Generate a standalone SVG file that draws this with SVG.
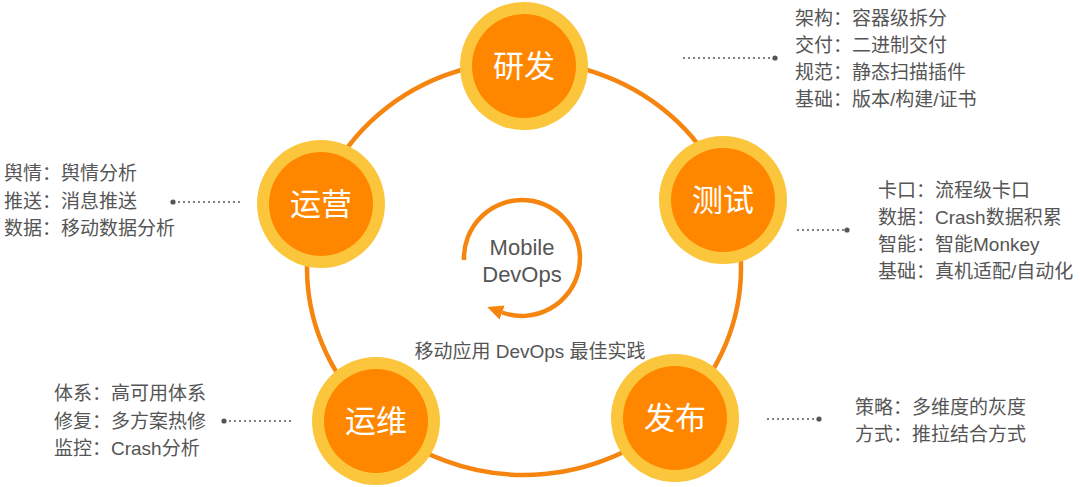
<svg xmlns="http://www.w3.org/2000/svg" width="1080" height="487" viewBox="0 0 1080 487">
<defs>
<style>
.ring{fill:none;stroke:#F5850F;stroke-width:4.5}
.outer{fill:#FBC63C}
.inner{fill:#FF8700}
.ntext{font-family:"Liberation Sans","Noto Sans CJK SC",sans-serif;font-size:31px;fill:#FFFFFF;text-anchor:middle}
.lead{fill:none;stroke:#555555;stroke-width:1.5;stroke-dasharray:2 3}
.dot{fill:#555555}
.info{font-family:"Liberation Sans","Noto Sans CJK SC",sans-serif;font-size:19px;fill:#555555}
.mid{font-family:"Liberation Sans","Noto Sans CJK SC",sans-serif;fill:#555555;text-anchor:middle}
</style>
<marker id="ah" markerUnits="userSpaceOnUse" markerWidth="16" markerHeight="15" refX="0" refY="7.5" orient="auto">
<path d="M0,0 L16,7.5 L0,15 z" fill="#F5850F"/>
</marker>
</defs>
<rect width="1080" height="487" fill="#FFFFFF"/>
<g id="connectors">
<ellipse class="ring" cx="524" cy="268" rx="217" ry="207"/>
<line class="lead" x1="683" y1="58" x2="775" y2="58"/><circle class="dot" cx="775" cy="58" r="2.6"/>
<line class="lead" x1="797" y1="230" x2="847" y2="230"/><circle class="dot" cx="847" cy="230" r="2.6"/>
<line class="lead" x1="767" y1="419" x2="819" y2="419"/><circle class="dot" cx="819" cy="419" r="2.6"/>
<line class="lead" x1="224" y1="421" x2="292" y2="421"/><circle class="dot" cx="224" cy="421" r="2.6"/>
<line class="lead" x1="173" y1="202" x2="242" y2="202"/><circle class="dot" cx="173" cy="202" r="2.6"/>
</g>
<g id="center">
<path d="M464,260 A58,58 0 1 1 502.2,312.5" fill="none" stroke="#F5850F" stroke-width="4.5" marker-end="url(#ah)"/>
<text class="mid" x="522" y="255" font-size="22">Mobile</text>
<text class="mid" x="522" y="282" font-size="22">DevOps</text>
<text class="mid" x="530" y="358" font-size="19">移动应用 DevOps 最佳实践</text>
</g>
<g id="node-yanfa">
<circle class="outer" cx="524" cy="66" r="64"/><circle class="inner" cx="524" cy="66" r="52"/>
<text class="ntext" x="524" y="77">研发</text>
</g>
<g id="node-ceshi">
<circle class="outer" cx="723" cy="200" r="64"/><circle class="inner" cx="723" cy="200" r="52"/>
<text class="ntext" x="723" y="211">测试</text>
</g>
<g id="node-fabu">
<circle class="outer" cx="675" cy="418" r="64"/><circle class="inner" cx="675" cy="418" r="52"/>
<text class="ntext" x="675" y="429">发布</text>
</g>
<g id="node-yunwei">
<circle class="outer" cx="376" cy="421" r="64"/><circle class="inner" cx="376" cy="421" r="52"/>
<text class="ntext" x="376" y="432">运维</text>
</g>
<g id="node-yunying">
<circle class="outer" cx="321" cy="204" r="64"/><circle class="inner" cx="321" cy="204" r="52"/>
<text class="ntext" x="321" y="215">运营</text>
</g>
<g id="info-yanfa">
<text class="info" x="795" y="25">架构：容器级拆分</text>
<text class="info" x="795" y="52">交付：二进制交付</text>
<text class="info" x="795" y="79">规范：静态扫描插件</text>
<text class="info" x="795" y="106">基础：版本/构建/证书</text>
</g>
<g id="info-ceshi">
<text class="info" x="878" y="197">卡口：流程级卡口</text>
<text class="info" x="878" y="224">数据：Crash数据积累</text>
<text class="info" x="878" y="251">智能：智能Monkey</text>
<text class="info" x="878" y="278">基础：真机适配/自动化</text>
</g>
<g id="info-fabu">
<text class="info" x="855" y="414">策略：多维度的灰度</text>
<text class="info" x="855" y="441">方式：推拉结合方式</text>
</g>
<g id="info-yunwei">
<text class="info" x="54" y="400">体系：高可用体系</text>
<text class="info" x="54" y="428">修复：多方案热修</text>
<text class="info" x="54" y="455">监控：Crash分析</text>
</g>
<g id="info-yunying">
<text class="info" x="4" y="180">舆情：舆情分析</text>
<text class="info" x="4" y="208">推送：消息推送</text>
<text class="info" x="4" y="235">数据：移动数据分析</text>
</g>
</svg>
